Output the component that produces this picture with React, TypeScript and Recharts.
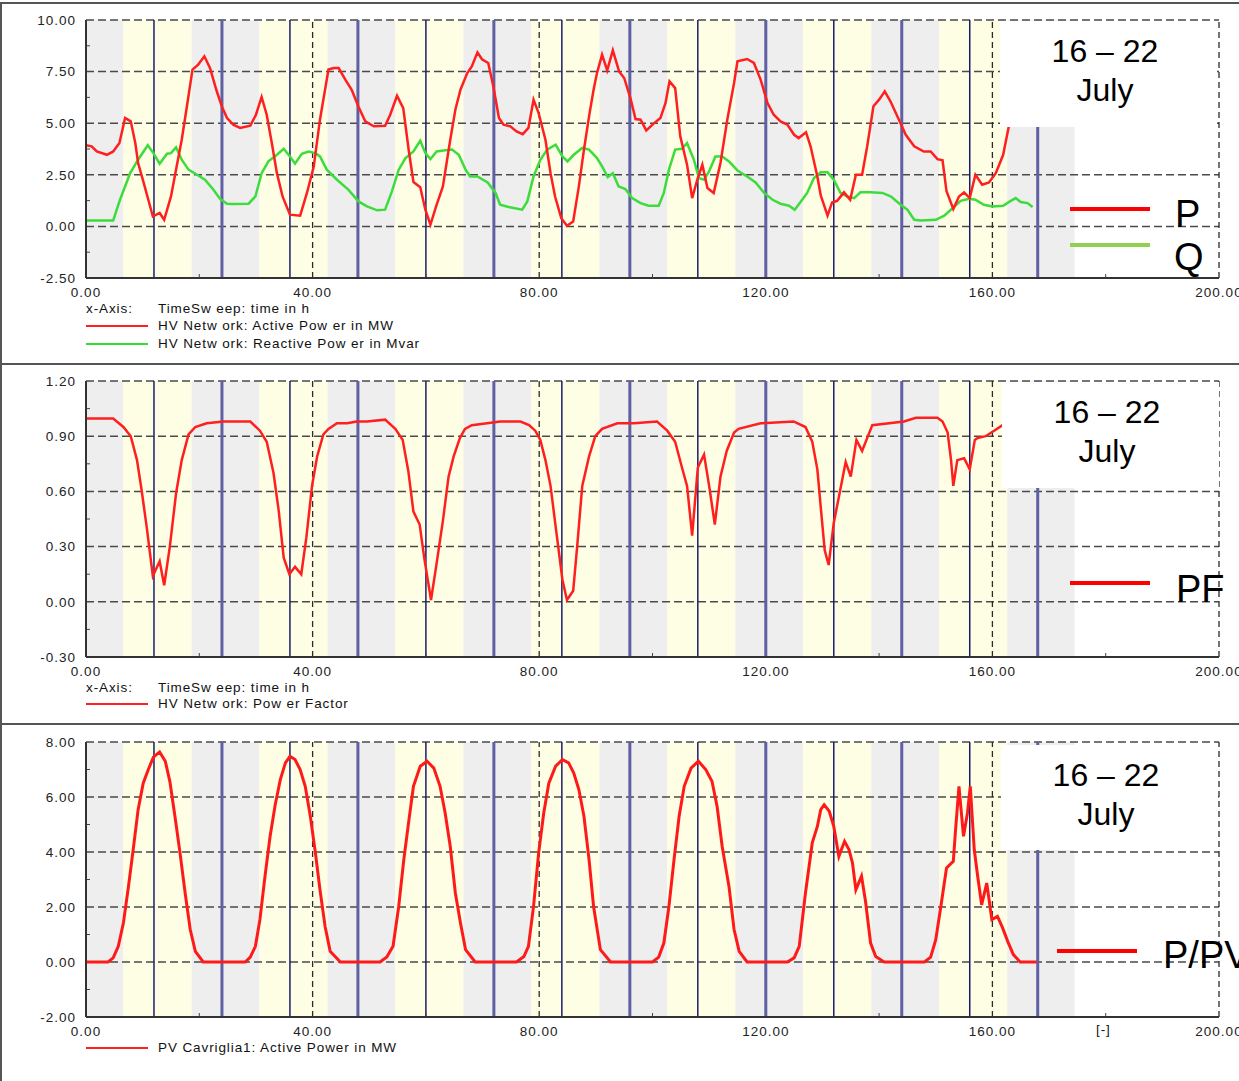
import React from 'react';
import { LineChart, Line, XAxis, YAxis, ReferenceArea, ReferenceLine } from 'recharts';

const FONT = '"Liberation Sans", Arial, Helvetica, sans-serif';
const W = 1239;
const CH = 340;

type Pt = [number, number];

// time axis (hours)
const xTicks = [0, 40, 80, 120, 160, 200];
const xMinor = [20, 60, 100, 140, 180];
const noonLines = [12, 36, 60, 84, 108, 132, 156];
const midnightLines = [24, 48, 72, 96, 120, 144, 168];
const nightBands: Pt[] = [[0, 6.6], [18.6, 30.6], [42.6, 54.6], [66.6, 78.6], [90.6, 102.6], [114.6, 126.6], [138.6, 150.6], [162.6, 174.5]];
const dayBands: Pt[] = [[6.6, 18.6], [30.6, 42.6], [54.6, 66.6], [78.6, 90.6], [102.6, 114.6], [126.6, 138.6], [150.6, 162.6]];

// y ticks per panel
const pqTicks = [-2.5, 0, 2.5, 5, 7.5, 10];
const pqMinor = [-1.25, 1.25, 3.75, 6.25, 8.75];
const pfTicks = [-0.3, 0, 0.3, 0.6, 0.9, 1.2];
const pfMinor = [-0.15, 0.15, 0.45, 0.75, 1.05];
const pvTicks = [-2, 0, 2, 4, 6, 8];
const pvMinor = [-1, 1, 3, 5, 7];

// HV Network: Active Power in MW  [h, MW]
const activePower: Pt[] = [
  [0, 3.93], [1, 3.88], [1.9, 3.63], [3.7, 3.47], [4.8, 3.63], [5.9, 4.04], [6.9, 5.25], [7.9, 5.09], [8.7, 4.04], [9.2, 3.07],
  [10.2, 2.1], [11, 1.29], [11.8, 0.48], [13, 0.65], [13.8, 0.32], [15, 1.45], [16, 2.9], [16.9, 4.2], [17.8, 5.8], [18.8, 7.6],
  [19.8, 7.84], [20.9, 8.24], [21.9, 7.67], [23, 6.62], [24, 5.8], [24.9, 5.25], [26, 4.93], [27.2, 4.77], [29, 4.88], [30, 5.41],
  [31, 6.27], [31.9, 5.41], [32.8, 4.04], [33.7, 2.58], [34.7, 1.45], [36, 0.57], [37.8, 0.52], [39, 1.62], [40.2, 2.9], [41.3, 5.17],
  [42.8, 7.6], [43.7, 7.67], [44.6, 7.67], [45.8, 7.1], [46.9, 6.62], [48.1, 5.8], [49.3, 5.09], [50.8, 4.85], [52.8, 4.88], [53.7, 5.41],
  [54.9, 6.33], [56, 5.73], [57, 3.63], [57.8, 2.15], [59, 1.9], [59.9, 0.81], [60.8, 0.08], [61.8, 0.97], [63, 1.94], [64.3, 4.2],
  [65.2, 5.65], [66.1, 6.62], [67.3, 7.43], [68.1, 7.75], [69.1, 8.43], [69.9, 8.1], [71, 7.92], [71.9, 6.79], [72.9, 5.25], [73.7, 4.93],
  [74.9, 4.85], [76, 4.6], [77.1, 4.47], [78.1, 4.77], [79, 6.14], [79.9, 5.49], [81.1, 4.2], [82, 2.58], [82.8, 1.45], [83.9, 0.4],
  [84.9, 0.03], [86, 0.24], [87, 1.94], [87.9, 3.72], [88.8, 5.33], [89.6, 6.62], [90.2, 7.43], [91.1, 8.32], [92, 7.56], [93, 8.53],
  [94.1, 7.51], [95, 7.19], [96.1, 6.22], [97, 5.2], [97.9, 5.17], [98.9, 4.65], [100.2, 4.98], [101.4, 5.25], [102.3, 5.98], [103, 7.03],
  [104, 6.7], [104.9, 4.36], [106.1, 2.99], [107, 1.37], [107.9, 2.26], [108.8, 2.99], [109.7, 1.86], [110.8, 1.62], [112, 3.07], [113.2, 5.17],
  [114.4, 6.95], [115, 8.0], [116.7, 8.11], [117.9, 7.92], [119.1, 7.1], [120.3, 5.98], [121.4, 5.41], [122.6, 5.09], [123.8, 4.93], [125, 4.44],
  [125.8, 4.28], [127.1, 4.56], [127.9, 3.88], [129.1, 2.42], [129.7, 1.5], [130.9, 0.52], [131.7, 1.16], [132.6, 1.24], [133.8, 1.65], [134.9, 1.29],
  [135.9, 2.5], [137, 2.5], [137.9, 3.88], [139, 5.82], [140, 6.14], [141, 6.54], [142, 6.06], [143.5, 5.17], [144.7, 4.44], [146.2, 3.88],
  [147.9, 3.63], [149.1, 3.63], [150.3, 3.26], [151.2, 3.2], [151.9, 1.7], [153.1, 0.84], [154.1, 1.45], [155, 1.65], [156, 1.37], [157, 2.5],
  [158.2, 2.02], [159.4, 2.13], [160.6, 2.58], [161.9, 3.47], [162.9, 4.85], [164, 6.6], [165, 7.4], [166, 7.7], [167, 7.5],
];

// HV Network: Reactive Power in Mvar  [h, Mvar]
const reactivePower: Pt[] = [
  [0, 0.29], [4.8, 0.29], [6, 1.29], [7.8, 2.58], [9.2, 3.23], [10.9, 3.93], [11.9, 3.55], [13, 3.04], [14.3, 3.52], [15, 3.55],
  [15.9, 3.83], [16.9, 3.23], [18.1, 2.75], [19.6, 2.5], [21, 2.26], [22.5, 1.78], [23.7, 1.32], [24.9, 1.1], [26, 1.08], [28.7, 1.1],
  [29.9, 1.45], [31, 2.58], [32.2, 3.15], [33.7, 3.47], [34.9, 3.76], [36, 3.39], [36.9, 3.04], [38.1, 3.52], [39.3, 3.63], [40.5, 3.55],
  [41.3, 3.39], [42.5, 2.75], [44.3, 2.26], [46.3, 1.78], [48.1, 1.21], [49.6, 0.97], [51.4, 0.78], [52.8, 0.81], [54, 1.7], [55.2, 2.75],
  [56.4, 3.31], [57.8, 3.63], [59, 4.15], [59.9, 3.55], [60.8, 3.26], [61.9, 3.63], [63.1, 3.68], [64.6, 3.72], [65.8, 3.47], [67, 2.75],
  [67.8, 2.42], [69.1, 2.42], [70.9, 2.13], [72.3, 1.62], [73.1, 1.05], [74.6, 0.94], [77, 0.81], [77.9, 1.21], [79, 2.42], [80.2, 3.23],
  [81.4, 3.72], [82.9, 3.96], [84.1, 3.39], [85, 3.15], [86.1, 3.47], [87.6, 3.8], [88.8, 3.72], [90.2, 3.31], [91.1, 2.91], [92.1, 2.39],
  [93, 2.58], [94, 1.94], [95.2, 1.81], [96.4, 1.37], [97.9, 1.13], [99.3, 1.0], [101.1, 1.0], [102, 1.62], [102.9, 2.75], [104, 3.72],
  [105.2, 3.76], [106.1, 4.04], [107.3, 3.23], [108.2, 2.34], [109.1, 2.26], [110, 2.67], [111.1, 3.39], [112.3, 3.39], [113.5, 3.15], [115, 2.71],
  [116.7, 2.42], [118.2, 2.13], [119.7, 1.62], [121.2, 1.29], [122.6, 1.1], [124.1, 1.0], [125.1, 0.81], [126.2, 1.21], [127.3, 1.62], [128.5, 2.34],
  [129.7, 2.62], [130.9, 2.62], [132, 2.26], [133.2, 1.62], [134.4, 1.45], [135.6, 1.37], [136.7, 1.65], [138.5, 1.65], [140.6, 1.62], [142.1, 1.45],
  [143.8, 1.05], [145, 0.81], [146.2, 0.32], [147.3, 0.29], [150, 0.32], [151.5, 0.52], [153, 0.89], [154.4, 1.24], [155.9, 1.34], [157, 1.29],
  [158.5, 1.05], [160, 0.97], [161.9, 1.0], [163.1, 1.21], [164.1, 1.37], [165, 1.18], [166.2, 1.13], [167.1, 0.94],
];

// HV Network: Power Factor  [h, -]
const powerFactor: Pt[] = [
  [0, 0.996], [4.8, 0.996], [6.6, 0.95], [7.9, 0.9], [9, 0.77], [9.8, 0.61], [10.7, 0.41], [11.8, 0.14], [13, 0.22], [13.8, 0.09],
  [14.8, 0.3], [15.9, 0.59], [16.9, 0.77], [18.1, 0.91], [19.3, 0.95], [21.3, 0.97], [24.3, 0.98], [29, 0.98], [30.7, 0.93], [31.9, 0.87],
  [33.1, 0.7], [34, 0.5], [34.9, 0.24], [35.9, 0.15], [36.9, 0.19], [38, 0.15], [38.9, 0.35], [39.9, 0.63], [40.8, 0.79], [41.9, 0.91],
  [42.8, 0.94], [44.3, 0.97], [46.1, 0.97], [47.8, 0.98], [49.6, 0.98], [52.8, 0.99], [54.6, 0.94], [55.9, 0.88], [56.9, 0.71], [57.8, 0.49],
  [58.9, 0.42], [59.7, 0.24], [60.9, 0.01], [61.9, 0.21], [63, 0.44], [64, 0.68], [64.9, 0.79], [66, 0.89], [66.9, 0.94], [68.1, 0.96],
  [70.8, 0.97], [73.1, 0.98], [76.7, 0.98], [78.2, 0.96], [79.3, 0.93], [80.2, 0.88], [81.1, 0.77], [82, 0.63], [82.9, 0.41], [84.1, 0.12],
  [84.9, 0.01], [86, 0.06], [86.7, 0.3], [87.6, 0.63], [88.8, 0.79], [89.9, 0.9], [91.1, 0.94], [93.8, 0.97], [96.7, 0.97], [100.8, 0.98],
  [102.6, 0.93], [104, 0.87], [105.2, 0.73], [106.1, 0.63], [107, 0.36], [108, 0.73], [109.1, 0.8], [110, 0.63], [111, 0.42], [112, 0.68],
  [113.1, 0.82], [114.4, 0.92], [115.2, 0.94], [119.1, 0.97], [124.9, 0.98], [127, 0.95], [128.2, 0.87], [129.1, 0.72], [129.8, 0.48], [130.4, 0.28],
  [131.1, 0.2], [132, 0.43], [132.9, 0.57], [134.1, 0.76], [135, 0.68], [136, 0.88], [137, 0.82], [138.8, 0.96], [144.4, 0.98], [146.5, 1.0],
  [150.3, 1.0], [151.2, 0.98], [152.1, 0.92], [152.7, 0.77], [153.1, 0.63], [153.8, 0.77], [155, 0.78], [156, 0.72], [156.9, 0.88], [157.4, 0.89],
  [158.8, 0.9], [160.3, 0.93], [161.8, 0.96], [163, 0.98], [165, 0.99], [167, 0.99],
];

// PV Cavriglia1: Active Power in MW  [h, MW]
const pvPower: Pt[] = [
  [0, 0], [3.9, 0], [4.8, 0.15], [5.7, 0.57], [6.6, 1.42], [7.5, 2.75], [8.4, 4.2], [9.2, 5.54], [10.1, 6.5], [11, 7.0],
  [11.9, 7.45], [13, 7.64], [14, 7.3], [14.8, 6.57], [15.7, 5.3], [16.6, 3.96], [17.5, 2.51], [18.4, 1.18], [19.3, 0.39], [20.7, 0],
  [28.1, 0], [29, 0.18], [29.9, 0.57], [30.7, 1.54], [31.6, 3.12], [32.5, 4.57], [33.4, 5.72], [34.3, 6.63], [35.2, 7.24], [36, 7.48],
  [36.9, 7.36], [37.8, 7.0], [38.7, 6.39], [39.6, 5.3], [40.5, 3.96], [41.3, 2.63], [42.2, 1.3], [43.1, 0.39], [44.9, 0], [51.9, 0],
  [53.1, 0.18], [54.2, 0.57], [55.2, 2.02], [56.1, 3.72], [56.9, 5.0], [57.8, 6.39], [59, 7.12], [60.2, 7.3], [61.4, 7.05], [62.5, 6.39],
  [63.4, 5.42], [64.3, 4.2], [65.2, 2.51], [66.1, 1.42], [67, 0.45], [68.7, 0], [76, 0], [77.3, 0.2], [78.1, 0.57], [79, 2.02],
  [79.9, 3.96], [80.8, 5.42], [81.7, 6.5], [82.9, 7.12], [84.1, 7.36], [85.2, 7.24], [86.1, 6.87], [87, 6.27], [87.9, 5.3], [88.8, 3.72],
  [89.6, 2.02], [90.8, 0.45], [92.6, 0], [100, 0], [101.1, 0.18], [102, 0.69], [102.9, 2.02], [103.8, 3.72], [104.7, 5.3], [105.6, 6.39],
  [106.8, 7.05], [108.1, 7.3], [109.4, 7.0], [110.5, 6.57], [111.4, 5.66], [112.3, 4.2], [113.5, 2.75], [114.4, 1.18], [115.3, 0.39], [116.7, 0],
  [123.8, 0], [125, 0.15], [125.9, 0.57], [127, 2.51], [128.2, 4.33], [129.1, 4.93], [129.7, 5.54], [130.3, 5.72], [131.2, 5.48], [132, 4.93],
  [132.9, 3.84], [133.9, 4.39], [134.7, 4.08], [135.3, 3.6], [135.9, 2.63], [136.9, 3.12], [137.6, 2.21], [138.5, 0.69], [139.4, 0.2], [140.9, 0],
  [148, 0], [149.1, 0.18], [150, 0.81], [150.9, 2.02], [151.9, 3.42], [153.1, 3.66], [153.5, 4.81], [154.1, 6.39], [154.9, 4.57], [155.6, 5.42],
  [156.1, 6.39], [156.8, 4.08], [157.4, 3.12], [158.1, 2.08], [159, 2.87], [159.9, 1.54], [160.9, 1.66], [161.8, 1.24], [162.7, 0.75], [163.7, 0.27],
  [164.9, 0], [167.8, 0],
];

const tickStyle = { fontSize: 13.5, fill: '#222', fontFamily: FONT, letterSpacing: 1 };

interface Series {
  name: string;
  data: Pt[];
  color: string;
  width: number;
}

interface PanelProps {
  top: number;
  mTop: number;
  mBottom: number;
  ticks: number[];
  minor: number[];
  series: Series[];
}

const Panel = ({ top, mTop, mBottom, ticks, minor, series }: PanelProps) => {
  const yMin = ticks[0];
  const yMax = ticks[ticks.length - 1];
  const plotH = CH - mTop - mBottom - 30;
  const tickH = ((yMax - yMin) * 4) / plotH;
  const tickW = (200 * 4) / (W - 86 - 20);
  return (
    <div style={{ position: 'absolute', left: 0, top, width: W, height: CH }}>
      <LineChart width={W} height={CH} margin={{ top: mTop, right: 20, bottom: mBottom, left: 0 }}>
        <XAxis
          type="number"
          dataKey="h"
          domain={[0, 200]}
          ticks={xTicks}
          interval={0}
          height={30}
          tickFormatter={(v) => v.toFixed(2)}
          axisLine={{ stroke: '#333', strokeWidth: 2 }}
          tickLine={false}
          tickMargin={3}
          tick={tickStyle}
          allowDataOverflow
        />
        <YAxis
          type="number"
          domain={[yMin, yMax]}
          ticks={ticks}
          interval={0}
          width={86}
          tickFormatter={(v) => v.toFixed(2)}
          axisLine={{ stroke: '#333', strokeWidth: 2 }}
          tickLine={false}
          tickMargin={4}
          tick={tickStyle}
          allowDataOverflow
        />
        {nightBands.map(([a, b]) => (
          <ReferenceArea key={'n' + a} x1={a} x2={b} y1={yMin} y2={yMax} fill="#eeeeee" fillOpacity={1} stroke="none" />
        ))}
        {dayBands.map(([a, b]) => (
          <ReferenceArea key={'d' + a} x1={a} x2={b} y1={yMin} y2={yMax} fill="#fefee4" fillOpacity={1} stroke="none" />
        ))}
        {ticks.slice(1).map((t) => (
          <ReferenceLine key={'gy' + t} y={t} stroke="#4a4a4a" strokeWidth={1.5} strokeDasharray="8 4" />
        ))}
        {xTicks.slice(1).map((t) => (
          <ReferenceLine key={'gx' + t} x={t} stroke="#2a2a2a" strokeWidth={1.3} strokeDasharray="6 4" />
        ))}
        {noonLines.map((t) => (
          <ReferenceLine key={'nl' + t} x={t} stroke="#1c1c6c" strokeWidth={1.5} />
        ))}
        {midnightLines.map((t) => (
          <ReferenceLine key={'ml' + t} x={t} stroke="#5f60a3" strokeWidth={3} />
        ))}
        {minor.map((m) => (
          <ReferenceLine key={'my' + m} segment={[{ x: 0, y: m }, { x: tickW, y: m }]} stroke="#444" />
        ))}
        {xMinor.map((m) => (
          <ReferenceLine key={'mx' + m} segment={[{ x: m, y: yMin }, { x: m, y: yMin + tickH }]} stroke="#444" />
        ))}
        {series.map((s) => (
          <Line
            key={s.name}
            name={s.name}
            data={s.data.map(([h, v]) => ({ h, v }))}
            dataKey="v"
            type="linear"
            stroke={s.color}
            strokeWidth={s.width}
            dot={false}
            isAnimationActive={false}
          />
        ))}
      </LineChart>
    </div>
  );
};

const abs = (left: number, top: number, extra: React.CSSProperties = {}): React.CSSProperties => ({
  position: 'absolute',
  left,
  top,
  ...extra,
});

const legendText: React.CSSProperties = {
  fontFamily: FONT,
  fontSize: 13.5,
  lineHeight: '17px',
  letterSpacing: 0.9,
  color: '#111',
  whiteSpace: 'nowrap',
};

const bigText: React.CSSProperties = {
  fontFamily: FONT,
  fontSize: 38,
  lineHeight: '38px',
  color: '#000',
  whiteSpace: 'nowrap',
};

const DateBox = ({ left, top, height }: { left: number; top: number; height: number }) => (
  <div style={abs(left, top, { width: 217, height, background: '#fff' })}>
    <div
      style={{
        position: 'absolute',
        left: 0,
        top: 11,
        width: 210,
        textAlign: 'center',
        fontFamily: FONT,
        fontSize: 32,
        lineHeight: '39px',
        color: '#000',
      }}
    >
      16 – 22
      <br />
      July
    </div>
  </div>
);

const LegendRow = ({ top, color, label }: { top: number; color: string; label: string }) => (
  <>
    <div style={abs(86, top + 8, { width: 62, height: 2, background: color })} />
    <div style={abs(158, top, legendText)}>{label}</div>
  </>
);

export default function App() {
  return (
    <div style={{ position: 'absolute', left: 0, top: 0, width: W, height: 1081, background: '#fff', overflow: 'hidden' }}>
      <Panel
        top={0}
        mTop={20}
        mBottom={32}
        ticks={pqTicks}
        minor={pqMinor}
        series={[
          { name: 'Q', data: reactivePower, color: '#3ddc3d', width: 2.5 },
          { name: 'P', data: activePower, color: '#ff1f1f', width: 2.5 },
        ]}
      />
      <Panel
        top={360}
        mTop={21}
        mBottom={13}
        ticks={pfTicks}
        minor={pfMinor}
        series={[{ name: 'PF', data: powerFactor, color: '#ff1f1f', width: 2.5 }]}
      />
      <Panel
        top={720}
        mTop={22}
        mBottom={13}
        ticks={pvTicks}
        minor={pvMinor}
        series={[{ name: 'PV', data: pvPower, color: '#ff1a1a', width: 3 }]}
      />

      {/* panel frames */}
      <div style={abs(0, 2, { width: W, height: 2, background: '#555' })} />
      <div style={abs(0, 2, { width: 2, height: 1079, background: '#555' })} />
      <div style={abs(0, 363, { width: W, height: 2, background: '#555' })} />
      <div style={abs(0, 723, { width: W, height: 2, background: '#555' })} />

      {/* panel 1 overlays */}
      <DateBox left={1000} top={21} height={106} />
      <div style={abs(1070, 207, { width: 80, height: 4, background: '#ff0000' })} />
      <div style={abs(1070, 243, { width: 80, height: 4, background: '#92d050' })} />
      <div style={abs(1175, 195, bigText)}>P</div>
      <div style={abs(1174, 238, bigText)}>Q</div>
      <div style={abs(86, 300, legendText)}>x-Axis:</div>
      <div style={abs(158, 300, legendText)}>TimeSw eep: time in h</div>
      <LegendRow top={317} color="#ff2020" label="HV Netw ork: Active Pow er in MW" />
      <LegendRow top={335} color="#33dd33" label="HV Netw ork: Reactive Pow er in Mvar" />

      {/* panel 2 overlays */}
      <DateBox left={1002} top={382} height={106} />
      <div style={abs(1070, 581, { width: 80, height: 4, background: '#ff0000' })} />
      <div style={abs(1176, 570, bigText)}>PF</div>
      <div style={abs(86, 679, legendText)}>x-Axis:</div>
      <div style={abs(158, 679, legendText)}>TimeSw eep: time in h</div>
      <LegendRow top={695} color="#ff2020" label="HV Netw ork: Pow er Factor" />

      {/* panel 3 overlays */}
      <DateBox left={1001} top={745} height={105} />
      <div style={abs(1057, 949, { width: 80, height: 4, background: '#ff0000' })} />
      <div style={abs(1163, 936, bigText)}>P/PV</div>
      <div style={abs(1096, 1021, legendText)}>[-]</div>
      <LegendRow top={1039} color="#ff2020" label="PV Cavriglia1: Active Power in MW" />
    </div>
  );
}
